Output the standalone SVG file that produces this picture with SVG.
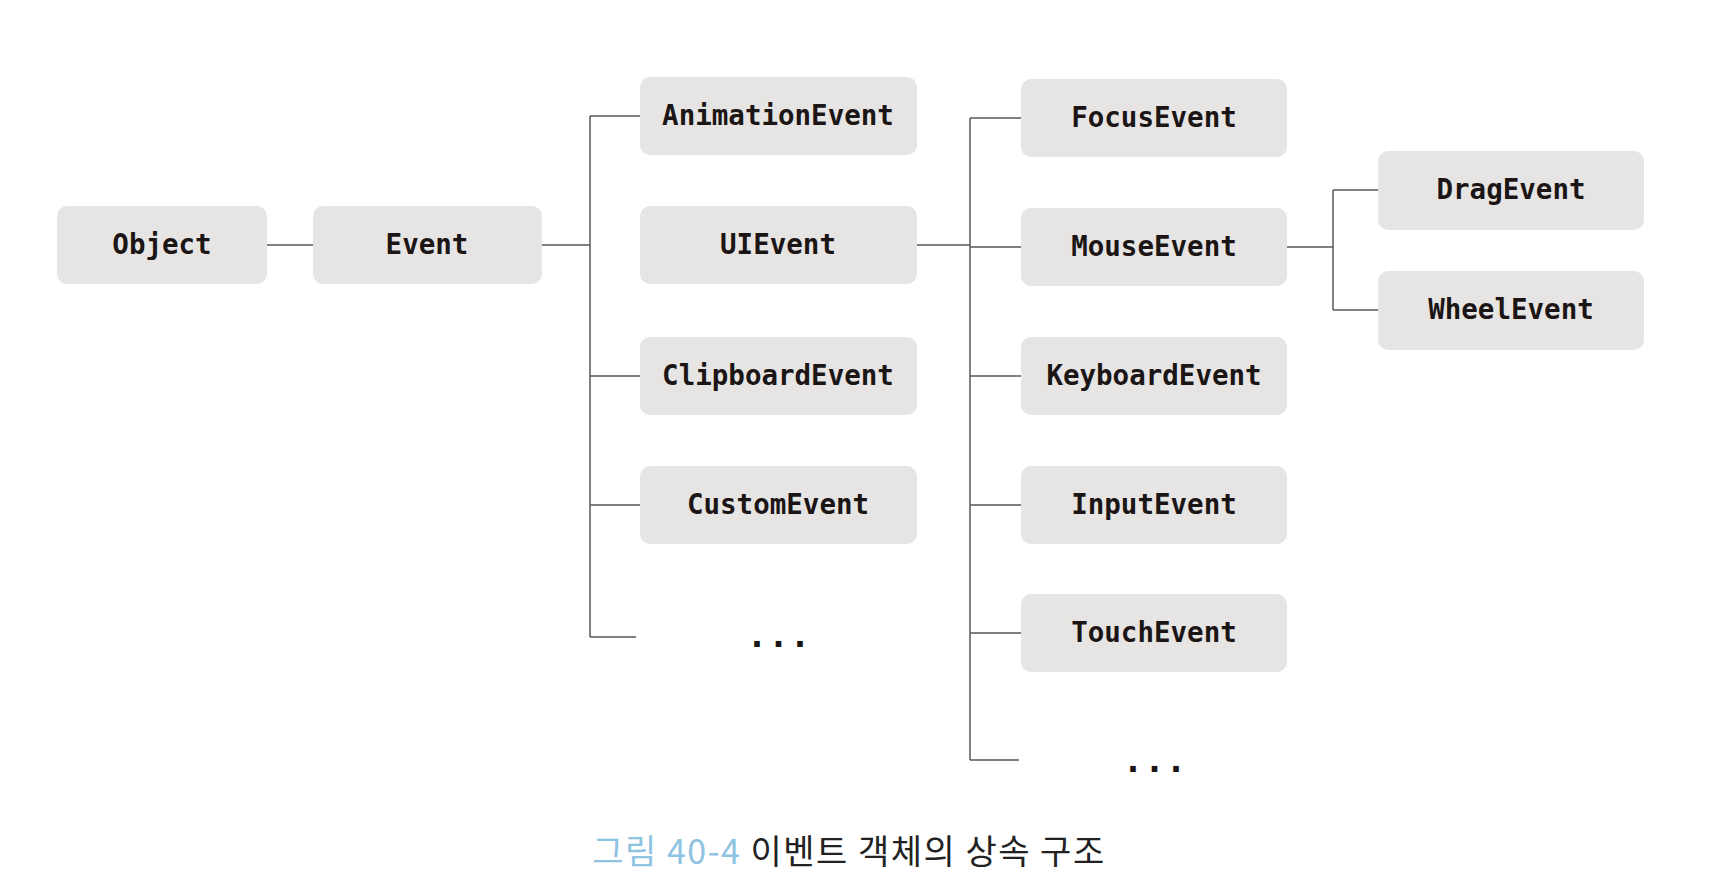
<svg xmlns="http://www.w3.org/2000/svg" width="1720" height="889" viewBox="0 0 1720 889">
<style>
.box{fill:#e7e5e3;}
.lbl{font-family:"DejaVu Sans Mono","Liberation Mono",monospace;font-weight:bold;font-size:27.5px;fill:#1b1515;text-anchor:middle;}
.dots{font-family:"DejaVu Sans Mono","Liberation Mono",monospace;font-weight:bold;font-size:34px;fill:#1b1515;text-anchor:middle;letter-spacing:1px;}
.conn{stroke:#5a5656;stroke-width:1.5;fill:none;}
.cap{font-family:"Noto Sans CJK KR","Noto Sans",sans-serif;font-size:34px;letter-spacing:1.5px;text-anchor:middle;fill:#222;}
</style>
<rect width="1720" height="889" fill="#ffffff"/>
<g id="connectors">
<path class="conn" d="M267 245H313"/>
<path class="conn" d="M542 245H590"/>
<path class="conn" d="M590 116V637"/>
<path class="conn" d="M590 116H640M590 376H640M590 505H640M590 637H636"/>
<path class="conn" d="M917 245H970"/>
<path class="conn" d="M970 118V760"/>
<path class="conn" d="M970 118H1021M970 247H1021M970 376H1021M970 505H1021M970 633H1021M970 760H1019"/>
<path class="conn" d="M1287 247H1333"/>
<path class="conn" d="M1333 190V310"/>
<path class="conn" d="M1333 190H1378M1333 310H1378"/>
</g>
<g id="node-object"><rect class="box" x="57" y="206" width="210" height="78" rx="10"/><text class="lbl" x="162" y="254">Object</text></g>
<g id="node-event"><rect class="box" x="313" y="206" width="229" height="78" rx="10"/><text class="lbl" x="427" y="254">Event</text></g>
<g id="node-animationevent"><rect class="box" x="640" y="77" width="277" height="78" rx="10"/><text class="lbl" x="778" y="125">AnimationEvent</text></g>
<g id="node-uievent"><rect class="box" x="640" y="206" width="277" height="78" rx="10"/><text class="lbl" x="778" y="254">UIEvent</text></g>
<g id="node-clipboardevent"><rect class="box" x="640" y="337" width="277" height="78" rx="10"/><text class="lbl" x="778" y="385">ClipboardEvent</text></g>
<g id="node-customevent"><rect class="box" x="640" y="466" width="277" height="78" rx="10"/><text class="lbl" x="778" y="514">CustomEvent</text></g>
<g id="node-more1"><text class="dots" x="779" y="647">...</text></g>
<g id="node-focusevent"><rect class="box" x="1021" y="79" width="266" height="78" rx="10"/><text class="lbl" x="1154" y="127">FocusEvent</text></g>
<g id="node-mouseevent"><rect class="box" x="1021" y="208" width="266" height="78" rx="10"/><text class="lbl" x="1154" y="256">MouseEvent</text></g>
<g id="node-keyboardevent"><rect class="box" x="1021" y="337" width="266" height="78" rx="10"/><text class="lbl" x="1154" y="385">KeyboardEvent</text></g>
<g id="node-inputevent"><rect class="box" x="1021" y="466" width="266" height="78" rx="10"/><text class="lbl" x="1154" y="514">InputEvent</text></g>
<g id="node-touchevent"><rect class="box" x="1021" y="594" width="266" height="78" rx="10"/><text class="lbl" x="1154" y="642">TouchEvent</text></g>
<g id="node-more2"><text class="dots" x="1155" y="772">...</text></g>
<g id="node-dragevent"><rect class="box" x="1378" y="151" width="266" height="79" rx="10"/><text class="lbl" x="1511" y="199">DragEvent</text></g>
<g id="node-wheelevent"><rect class="box" x="1378" y="271" width="266" height="79" rx="10"/><text class="lbl" x="1511" y="319">WheelEvent</text></g>
<g id="caption"><text class="cap" x="849" y="864"><tspan fill="#8fc3e2">그림 40-4</tspan> 이벤트 객체의 상속 구조</text></g>
</svg>
